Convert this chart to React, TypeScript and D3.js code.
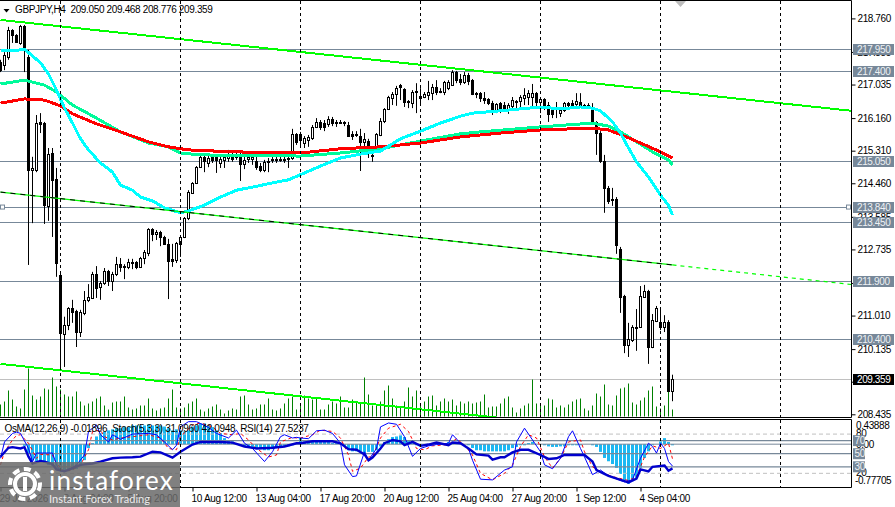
import { useEffect, useRef } from "react";
import * as d3 from "d3";

// H4 candles, one per bar
const opens = [217.62,217.54,217.75,218.46,218.33,218.12,218.56,217.75,214.81,214.81,216.06,216.03,213.87,215.25,214.57,212.07,210.53,210.76,211.21,211.13,210.58,211.08,211.42,211.47,212.09,211.75,211.86,212.17,211.91,212.09,212.35,212.30,212.28,212.41,212.41,212.28,212.51,212.64,213.27,213.14,213.19,213.06,212.88,212.49,212.46,212.88,213.06,213.55,214.21,214.47,214.88,215.15,214.99,215.15,215.15,214.99,215.07,215.12,215.15,215.15,215.15,214.96,215.09,215.09,215.04,214.91,214.81,215.02,215.07,215.07,215.07,215.07,215.09,215.12,215.75,215.75,215.51,215.59,215.64,215.93,216.06,216.03,216.01,216.14,216.06,216.06,216.06,215.98,215.75,215.75,215.69,215.54,215.56,215.20,215.41,215.72,216.08,216.40,216.68,216.79,217.02,216.92,216.61,216.55,216.87,216.68,216.71,216.76,216.81,216.97,216.87,216.84,216.94,217.02,217.36,217.18,217.10,217.28,217.15,216.81,216.81,216.68,216.66,216.55,216.37,216.55,216.50,216.37,216.48,216.61,216.61,216.68,216.71,216.71,216.81,216.58,216.66,216.50,216.40,216.45,216.29,216.37,216.55,216.55,216.53,216.58,216.50,216.50,216.42,216.06,215.77,215.04,214.34,214.05,214.05,212.75,211.52,210.24,210.37,210.71,210.71,211.49,211.65,210.19,210.87,210.84,210.71,210.84,209.05];
const highs = [217.68,217.88,218.54,218.48,218.35,218.59,218.59,217.94,215.15,216.24,216.29,216.06,215.38,215.38,214.86,212.15,210.98,211.23,211.42,211.16,211.16,211.65,211.83,212.15,212.30,211.91,212.25,212.20,212.15,212.54,212.51,212.35,212.49,212.49,212.43,212.54,212.72,213.29,213.29,213.24,213.22,213.09,213.01,212.88,212.93,213.11,213.58,214.28,214.49,214.91,215.20,215.20,215.17,215.20,215.20,215.17,215.20,215.33,215.30,215.25,215.28,215.15,215.25,215.22,215.15,214.99,215.07,215.12,215.17,215.20,215.17,215.17,215.22,215.88,215.77,215.80,215.69,215.72,215.98,216.16,216.11,216.11,216.21,216.19,216.11,216.11,216.08,216.06,215.82,215.82,215.88,215.77,215.62,215.33,215.77,216.16,216.42,216.74,216.84,217.00,217.05,216.94,216.63,216.89,217.07,216.94,216.84,217.13,217.05,217.15,216.94,217.13,217.15,217.41,217.39,217.31,217.36,217.34,217.18,216.84,216.84,216.84,216.68,216.61,216.55,216.58,216.58,216.55,216.71,216.63,216.76,216.94,216.89,217.05,216.84,216.68,216.68,216.58,216.45,216.58,216.45,216.58,216.58,216.63,216.81,216.81,216.53,216.55,216.55,216.08,215.82,215.20,214.39,214.34,214.10,212.80,211.55,210.82,210.76,211.18,211.78,211.81,211.68,211.05,211.26,211.23,211.02,210.89,209.468];
const lows = [217.36,217.41,217.68,218.12,218.12,218.07,217.36,212.33,213.42,214.75,215.77,213.40,213.48,213.06,212.02,209.59,209.67,210.63,210.82,210.19,210.45,211.02,211.36,211.47,211.47,211.42,211.81,211.78,211.65,212.04,212.15,211.96,212.22,212.22,212.22,212.25,212.35,212.56,212.95,212.98,212.82,212.85,211.44,212.28,212.38,212.54,213.03,213.50,214.18,214.44,214.86,214.75,214.88,214.99,214.73,214.86,214.86,215.02,215.02,215.07,214.52,214.83,214.99,214.94,214.81,214.75,214.75,214.75,214.99,214.99,215.02,214.99,214.86,215.07,215.46,215.38,215.38,215.41,215.59,215.90,215.85,215.82,215.93,215.95,215.93,216.01,215.95,215.67,215.59,215.67,214.78,215.41,215.12,215.02,215.38,215.69,216.03,216.37,216.50,216.48,216.63,216.45,216.42,216.42,216.29,216.55,216.68,216.63,216.63,216.76,216.81,216.76,216.89,217.00,217.07,217.02,217.05,217.02,216.76,216.68,216.58,216.53,216.50,216.24,216.29,216.29,216.32,216.27,216.37,216.42,216.42,216.50,216.50,216.45,216.45,216.29,216.37,216.06,216.16,216.16,216.19,216.32,216.37,216.45,216.48,216.45,216.40,216.42,215.98,215.20,214.99,213.69,213.92,213.87,212.62,211.08,210.03,209.93,210.32,210.09,210.69,211.47,209.75,210.16,210.84,210.63,210.58,209.02,208.776];
const closes = [217.41,217.81,218.46,218.33,218.14,218.56,217.96,214.81,214.86,216.03,216.01,213.89,215.22,214.55,212.38,210.56,210.76,211.21,211.10,210.58,211.10,211.42,211.49,212.09,211.73,211.86,212.17,211.91,212.09,212.35,212.28,212.29,212.41,212.40,212.28,212.51,212.67,213.27,213.14,213.19,213.06,212.88,212.43,212.43,212.90,213.06,213.55,214.23,214.47,214.88,215.15,215.04,215.12,215.07,215.07,215.09,215.15,215.17,215.09,215.20,214.96,215.07,215.15,215.15,214.88,214.81,215.02,215.04,215.09,215.09,215.09,215.09,215.12,215.75,215.54,215.59,215.64,215.67,215.93,216.06,215.93,215.93,216.14,216.03,216.03,216.03,216.03,215.69,215.69,215.72,215.54,215.62,215.41,215.17,215.75,216.08,216.40,216.71,216.79,216.94,216.97,216.58,216.58,216.84,216.84,216.74,216.79,216.84,216.97,216.84,216.84,217.10,217.10,217.36,217.15,217.10,217.28,217.13,216.79,216.79,216.68,216.63,216.55,216.37,216.53,216.37,216.37,216.50,216.63,216.58,216.71,216.76,216.81,216.81,216.58,216.66,216.48,216.27,216.27,216.40,216.37,216.55,216.50,216.50,216.61,216.50,216.48,216.48,216.06,215.77,215.04,214.34,214.00,214.02,212.85,211.49,210.24,210.40,210.71,210.70,211.52,211.65,210.19,210.89,211.21,210.71,210.84,209.04,209.359];
const volumes = [12,15,26,17,10,8,27,48,21,17,20,28,27,39,30,27,22,20,20,25,15,11,13,15,18,20,11,7,14,15,15,20,9,7,8,11,11,18,8,6,8,9,18,27,9,8,9,13,15,18,7,5,8,10,12,7,3,6,8,7,20,21,12,7,8,12,12,18,7,6,8,13,18,20,7,11,21,18,17,18,7,7,12,15,13,20,9,9,17,15,13,39,22,11,12,15,26,31,18,11,9,15,29,20,26,11,15,20,21,11,15,18,15,17,11,15,13,15,13,14,15,22,9,10,10,13,18,20,9,4,8,11,13,37,13,11,11,18,17,9,11,9,12,15,17,18,8,6,11,23,20,32,12,11,21,28,29,33,14,12,16,19,26,30,10,8,11,26,7];
const osma = [0,0,0,0,0,0,-0.03,-0.18,-0.29,-0.31,-0.31,-0.34,-0.38,-0.40,-0.47,-0.49,-0.49,-0.49,-0.47,-0.45,-0.40,-0.29,-0.07,0.02,0.14,0.20,0.23,0.25,0.27,0.29,0.29,0.31,0.31,0.34,0.34,0.34,0.34,0.36,0.34,0.34,0.34,0.32,0.29,0.25,0.27,0.25,0.23,0.25,0.32,0.34,0.38,0.38,0.34,0.31,0.25,0.20,0.11,0.07,0.05,0.02,-0.02,-0.04,-0.05,-0.07,-0.07,-0.09,-0.11,-0.11,-0.09,-0.07,-0.07,-0.05,-0.04,-0.02,0.02,0.11,0.05,0.05,0.04,0.05,0.05,0.04,0.04,0.02,0.02,0,-0.04,-0.11,-0.13,-0.13,-0.13,-0.16,-0.14,-0.14,-0.11,-0.04,0.04,0.09,0.13,0.14,0.16,0.13,0.07,0.02,-0.02,-0.04,-0.02,-0.02,-0.02,0,0.02,0.02,0.04,0.04,0.04,0.02,0,-0.02,-0.07,-0.11,-0.11,-0.13,-0.13,-0.13,-0.13,-0.13,-0.13,-0.11,-0.07,-0.05,-0.02,-0.02,0.02,0.04,0,0,-0.02,-0.04,-0.05,-0.05,-0.04,-0.04,-0.02,-0.02,-0.02,-0.02,0,0,-0.02,-0.05,-0.14,-0.25,-0.31,-0.36,-0.43,-0.54,-0.65,-0.72,-0.67,-0.61,-0.43,-0.25,-0.13,-0.02,0,0.05,0.11,0.04,-0.02];

// moving averages, trend lines and oscillators sampled at chosen bars
const fastBars = [0,3,6,8,10,12,14,16,18,20,22,25,28,30,33,35,38,41,45,47,51,55,59,63,68,72,76,80,85,90,95,100,105,110,115,118,125,130,135,140,145,148,150,153,155,157,159,162,165,167,168];
const fastMa = [217.91,217.91,217.96,217.78,217.60,217.31,216.89,216.42,216.03,215.62,215.33,214.99,214.75,214.41,214.28,214.10,214.00,213.82,213.69,213.74,213.89,214.10,214.28,214.36,214.47,214.55,214.73,214.91,215.12,215.22,215.30,215.62,215.82,216.03,216.21,216.29,216.35,216.40,216.45,216.40,216.45,216.42,216.35,216.06,215.77,215.38,215.02,214.62,214.15,213.89,213.63];
const midBars = [0,6,11,14,18,24,30,37,42,45,50,75,85,95,105,115,120,135,148,152,155,159,163,167,168];
const midMa = [217.05,217.15,217.02,216.84,216.50,216.16,215.80,215.51,215.41,215.25,215.20,215.17,215.25,215.36,215.56,215.75,215.80,215.93,216.03,215.95,215.80,215.54,215.28,215.07,214.94];
const slowBars = [0,6,11,15,18,24,30,37,42,47,58,75,85,95,105,115,125,135,148,152,156,160,165,168];
const slowMa = [216.55,216.66,216.63,216.48,216.27,216.01,215.80,215.54,215.41,215.33,215.28,215.25,215.36,215.41,215.51,215.67,215.77,215.85,215.90,215.85,215.69,215.51,215.28,215.12];

const rsiBars = [0,2,3,5,6,7,8,10,11,13,14,16,18,20,23,25,28,30,33,35,38,40,43,45,48,50,55,58,61,64,68,71,74,75,78,83,85,87,89,91,92,93,95,96,98,100,101,103,105,107,109,112,113,115,117,119,122,123,125,126,128,130,132,135,137,139,141,146,148,149,152,155,157,159,160,162,163,166,167,168];
const rsi = [45.5,59,60,58,60,45.5,35,39,38,34,26,23,28,33,35,38,43,44,44.5,45.5,53,52,44,53,64,68,68,67,61,58,59,61,66,66,69,69,66,57,56,49,40,44,58,66,71,69,63,68,62,64,67,63,67,66,58,49,47,41,44.5,44.5,52,56,56,48,42,43,48,48,38,25,16,10,6,12,26,23,30,32,24,27.5];
const stochBars = [0,1,3,4,5,7,8,9,11,13,14,15,17,19,21,22,24,25,27,28,30,33,37,39,41,43,44,45,47,49,52,54,57,59,61,63,66,68,70,71,73,74,75,77,79,81,83,85,86,88,89,91,92,94,95,97,99,101,103,105,107,109,112,113,115,117,118,120,123,126,128,129,131,133,135,136,138,140,142,143,145,146,148,150,152,156,158,160,162,163,164,165,166,167,168];
const stochMain = [43,68,81,83,81,58,38,51,51,51,33,23,25,33,48,84,94,79,68,79,72,80,81,79,68,56,63,91,99,99,90,81,74,86,66,58,38,53,76,79,74,75,74,73,85,86,81,66,33,15,16,53,40,58,91,97,95,76,46,58,62,64,66,79,66,58,40,11,10,25,30,68,89,71,53,33,27,43,76,85,58,45,18,25,16,7,10,43,66,61,51,66,58,38,31.1];
const signalBars = [0,1,3,4,5,7,9,10,13,14,16,18,20,22,23,25,26,28,30,33,37,40,42,44,45,48,50,53,55,58,60,62,64,67,69,70,73,74,75,78,80,83,85,87,88,90,92,93,95,97,100,102,104,106,108,112,114,116,118,120,123,126,128,130,132,134,136,138,140,142,145,146,148,150,153,157,159,161,163,165,167,168];
const stochSignal = [33,53,71,78,79,66,43,49,48,35,23,25,33,56,84,86,76,71,74,76,79,74,58,56,76,94,97,91,81,79,81,71,58,45,48,68,75,74,74,79,86,84,74,48,23,28,45,45,74,89,95,84,58,56,62,64,73,63,48,20,10,20,33,61,79,74,45,28,43,68,71,53,30,22,15,9,15,45,62,58,66,42.1];

const priceTicks = [218.76,217.885,217.035,216.16,215.31,214.46,213.585,212.735,211.86,211.01,210.135,209.285,208.435];
const levels = [217.95,217.4,215.05,213.84,213.45,211.9,210.4];
const lastPrice = 209.359;
const separators = [15,45,75,105,135,165,195];
const timeBars = [0,16,32,48,64,80,96,112,128,144,160];
const timeLabels = ["29 Jul 2026","3 Aug 04:00","5 Aug 20:00","10 Aug 12:00","13 Aug 04:00","17 Aug 20:00","20 Aug 12:00","25 Aug 04:00","27 Aug 20:00","1 Sep 12:00","4 Sep 04:00"];
const oscLevels = [70,50,30];
const oscDashed = [80,20];

// trend lines: [bar, price] at both ends, the axis sits at bar 212.75
const upperTrend = [[0, 218.72],[212.75, 216.35]];
const middleTrend = [[0, 214.23],[168, 212.33],[212.75, 211.82]];
const lowerTrend = [[0, 209.75],[212.75, 207.35]];

const FONT = "'Liberation Sans', Arial, sans-serif";
const SLATE = "#778899";

export default function App() {
  const svgRef = useRef<SVGSVGElement>(null);

  useEffect(() => {
    const svg = d3.select(svgRef.current!);
    svg.selectAll("*").remove();
    svg.attr("font-family", FONT).attr("font-size", 10);

    const W = 851.5;
    const x = d3.scaleLinear().domain([0, 212.75]).range([0.5, W]);
    const y = d3.scaleLinear().domain([218.76, 208.435]).range([18.4, 414.3]);
    const vol = d3.scaleLinear().domain([0, 50]).range([416.5, 366.5]);
    const osc = d3.scaleLinear().domain([0, 100]).range([486.4, 421]);
    const macd = d3.scaleLinear().domain([0.43888, -0.77705]).range([420, 487]);

    const defs = svg.append("defs");
    defs.append("clipPath").attr("id", "main-clip").append("rect")
      .attr("x", 0).attr("y", 1).attr("width", W).attr("height", 416);
    defs.append("clipPath").attr("id", "sub-clip").append("rect")
      .attr("x", 0).attr("y", 420).attr("width", W).attr("height", 67);

    const main = svg.append("g").attr("clip-path", "url(#main-clip)");
    const sub = svg.append("g").attr("clip-path", "url(#sub-clip)");

    // horizontal levels
    main.selectAll(".level").data(levels).join("line")
      .attr("x1", 0).attr("x2", W)
      .attr("y1", (d) => Math.round(y(d)) + 0.5).attr("y2", (d) => Math.round(y(d)) + 0.5)
      .attr("stroke", SLATE).attr("stroke-width", 1.2);
    main.append("line").attr("x1", 0).attr("x2", W)
      .attr("y1", Math.round(y(lastPrice)) + 0.5).attr("y2", Math.round(y(lastPrice)) + 0.5)
      .attr("stroke", "#c0c0c0");

    // period separators
    [[1, 417], [420, 487]].forEach(([a, b]) => {
      svg.append("g").selectAll("line").data(separators).join("line")
        .attr("x1", (d) => x(d)).attr("x2", (d) => x(d))
        .attr("y1", a).attr("y2", b)
        .attr("stroke", "#000").attr("stroke-dasharray", "3,3");
    });

    // volumes
    main.append("g").selectAll("line").data(volumes).join("line")
      .attr("x1", (_, i) => x(i)).attr("x2", (_, i) => x(i))
      .attr("y1", vol(0)).attr("y2", (d) => vol(d))
      .attr("stroke", "#008000");

    // candles
    const candles = main.append("g").selectAll("g").data(opens).join("g");
    candles.append("line")
      .attr("x1", (_, i) => x(i)).attr("x2", (_, i) => x(i))
      .attr("y1", (_, i) => y(highs[i])).attr("y2", (_, i) => y(lows[i]))
      .attr("stroke", "#000");
    candles.append("rect")
      .attr("x", (_, i) => x(i) - 1)
      .attr("width", 2)
      .attr("y", (d, i) => Math.round(y(Math.max(d, closes[i]))) + 0.5)
      .attr("height", (d, i) => Math.max(Math.abs(Math.round(y(d)) - Math.round(y(closes[i]))), 1))
      .attr("fill", (d, i) => (closes[i] >= d ? "#fff" : "#000"))
      .attr("stroke", "#000");

    // moving averages
    const maLine = (bars: number[], vals: number[], color: string) => {
      const path = d3.line<number>()
        .x((_, i) => x(bars[i]))
        .y((d) => y(d));
      main.append("path").attr("d", path(vals))
        .attr("fill", "none").attr("stroke", color).attr("stroke-width", 3)
        .attr("stroke-linejoin", "round").attr("shape-rendering", "crispEdges");
    };
    maLine(midBars, midMa, "#00fa9a");
    maLine(slowBars, slowMa, "#ff0000");
    maLine(fastBars, fastMa, "#00ffff");

    // trend lines
    const trend = d3.line<number[]>().x((d) => x(d[0])).y((d) => y(d[1]));
    main.append("path").attr("d", trend(upperTrend)).attr("stroke", "#00ff00").attr("stroke-width", 2).attr("fill", "none").attr("shape-rendering", "crispEdges");
    main.append("path").attr("d", trend(lowerTrend)).attr("stroke", "#00ff00").attr("stroke-width", 2).attr("fill", "none").attr("shape-rendering", "crispEdges");
    main.append("path").attr("d", trend(middleTrend.slice(0, 2))).attr("stroke", "#00ff00").attr("stroke-width", 1.2).attr("fill", "none");
    main.append("path").attr("d", trend(middleTrend.slice(0, 2))).attr("stroke", "#000").attr("stroke-dasharray", "5,5").attr("fill", "none");
    main.append("path").attr("d", trend(middleTrend.slice(1))).attr("stroke", "#00ff00").attr("stroke-dasharray", "4,4").attr("stroke-width", 1.2).attr("fill", "none");

    // handle squares on the selected level
    [x(0) + 2, W - 3].forEach((cx) => {
      svg.append("rect").attr("x", cx - 2).attr("y", y(213.84) - 2).attr("width", 4).attr("height", 4)
        .attr("fill", "#fff").attr("stroke", SLATE);
    });

    // sub window: OsMA bars
    sub.append("g").selectAll("rect").data(osma).join("rect")
      .attr("x", (_, i) => x(i) - 1.5)
      .attr("width", 3)
      .attr("y", (d) => Math.min(macd(d), macd(0)))
      .attr("height", (d) => Math.abs(macd(d) - macd(0)))
      .attr("fill", "#1cb8f2");

    sub.append("g").selectAll("line").data(oscDashed).join("line")
      .attr("x1", 0).attr("x2", W).attr("y1", (d) => osc(d)).attr("y2", (d) => osc(d))
      .attr("stroke", "#c0c0c0").attr("stroke-dasharray", "4,3");
    sub.append("g").selectAll("line").data(oscLevels).join("line")
      .attr("x1", 0).attr("x2", W).attr("y1", (d) => osc(d)).attr("y2", (d) => osc(d))
      .attr("stroke", SLATE).attr("stroke-width", 1.2);
    sub.append("line").attr("x1", 0).attr("x2", W).attr("y1", macd(0)).attr("y2", macd(0))
      .attr("stroke", SLATE);

    const oscLine = (bars: number[], vals: number[]) =>
      d3.line<number>().x((_, i) => x(bars[i])).y((d) => osc(d))(vals);
    sub.append("path").attr("d", oscLine(signalBars, stochSignal))
      .attr("fill", "none").attr("stroke", "#ff0000").attr("stroke-dasharray", "3,3");
    sub.append("path").attr("d", oscLine(stochBars, stochMain))
      .attr("fill", "none").attr("stroke", "#0000ff");
    sub.append("path").attr("d", oscLine(rsiBars, rsi))
      .attr("fill", "none").attr("stroke", "#0000cd").attr("stroke-width", 2.4);

    // frames
    const frame = svg.append("g").attr("stroke", "#000").attr("fill", "none");
    frame.append("path").attr("d", `M0,0.5H${W}V417.5H0`);
    frame.append("path").attr("d", `M0,419.5H${W}V487.5H0`);

    // price axis
    const priceAxis = svg.append("g").attr("transform", `translate(${W},0)`)
      .call(d3.axisRight(y).tickValues(priceTicks).tickSize(4).tickPadding(2).tickFormat(d3.format(".3f")));
    priceAxis.select(".domain").remove();
    priceAxis.selectAll("text").attr("font-family", FONT).attr("font-size", 10).attr("letter-spacing", -0.4).attr("fill", "#000");

    const tagged = (val: number, fill: string, color: string) => {
      const cy = Math.round(y(val)) + 0.5;
      svg.append("rect").attr("x", 853).attr("y", cy - 5.5).attr("width", 41).attr("height", 11).attr("fill", fill);
      svg.append("text").attr("x", 857).attr("y", cy + 3.5).attr("fill", color).attr("letter-spacing", -0.4)
        .text(d3.format(".3f")(val));
    };
    levels.forEach((d) => tagged(d, SLATE, "#eef1f4"));
    tagged(lastPrice, "#000", "#fff");

    // sub window scale
    const subText = svg.append("g");
    [["0.43888", 429], ["80", osc(80) + 3], ["0.00", macd(0) + 3.5], ["20", osc(20) + 3], ["-0.77705", 484]].forEach(([t, ty]) => {
      subText.append("text").attr("x", String(t).startsWith("-") ? 855 : 856).attr("y", ty as number)
        .attr("letter-spacing", -0.4).text(t as string);
    });
    oscLevels.forEach((d) => {
      svg.append("rect").attr("x", 853).attr("y", osc(d) - 5.5).attr("width", 12).attr("height", 11).attr("fill", SLATE);
      svg.append("text").attr("x", 854.5).attr("y", osc(d) + 3.5).attr("fill", "#eef1f4").attr("letter-spacing", -0.3).text(d);
    });

    // time axis
    const timeAxis = svg.append("g").attr("transform", "translate(0,487.5)")
      .call(d3.axisBottom(x).tickValues(timeBars).tickSize(4).tickPadding(3)
        .tickFormat((_, i) => timeLabels[i]));
    timeAxis.select(".domain").remove();
    timeAxis.selectAll("text").attr("font-family", FONT).attr("font-size", 10)
      .attr("text-anchor", "start").attr("dx", -1.5).attr("letter-spacing", -0.3).attr("fill", "#000");

    // titles
    svg.append("path").attr("d", "M3.5,9H9.5L6.5,12.5Z").attr("fill", "#000");
    svg.append("text").attr("x", 15).attr("y", 12.5).attr("fill", "#000")
      .attr("letter-spacing", -0.35)
      .style("white-space", "pre")
      .text("GBPJPY,H4  209.050 209.468 208.776 209.359");
    svg.append("text").attr("x", 4.5).attr("y", 431.5).attr("fill", "#000")
      .attr("letter-spacing", -0.33)
      .style("white-space", "pre")
      .text("OsMA(12,26,9) -0.01896  Stoch(5,3,3) 31.0960 42.0948  RSI(14) 27.5237");

    // shift marker
    svg.append("path").attr("d", "M675,1H686L680.5,7Z").attr("fill", "#bdbdbd");

    // watermark
    const logo = svg.append("g");
    logo.append("rect").attr("x", 0).attr("y", 462).attr("width", 180).attr("height", 45)
      .attr("fill", "#6a6a6a").attr("opacity", 0.85);
    logo.append("circle").attr("cx", 25).attr("cy", 484).attr("r", 15)
      .attr("fill", "none").attr("stroke", "#fff").attr("stroke-width", 4).attr("stroke-dasharray", "7,4.5");
    logo.append("circle").attr("cx", 25).attr("cy", 484).attr("r", 10)
      .attr("fill", "none").attr("stroke", "#fff").attr("stroke-width", 4);
    logo.append("rect").attr("x", 23).attr("y", 477).attr("width", 4).attr("height", 14).attr("fill", "#fff");
    logo.append("text").attr("x", 49).attr("y", 490).attr("fill", "#fff")
      .attr("font-family", "Lato, sans-serif").attr("font-size", 26).attr("letter-spacing", 1.2)
      .text("instaforex");
    logo.append("text").attr("x", 49).attr("y", 503).attr("fill", "#fff").attr("opacity", 0.85)
      .attr("font-family", "Lato, sans-serif").attr("font-size", 11)
      .text("Instant Forex Trading");
  }, []);

  return (
    <svg
      ref={svgRef}
      width={895}
      height={507}
      style={{ position: "fixed", left: 0, top: 0, background: "#fff" }}
    />
  );
}
